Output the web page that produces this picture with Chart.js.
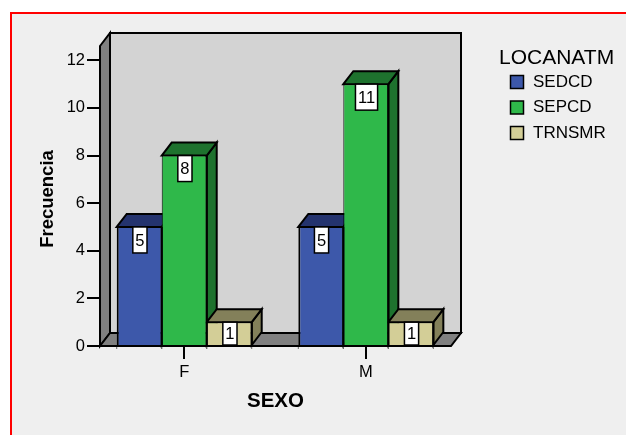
<!DOCTYPE html>
<html>
<head>
<meta charset="utf-8">
<style>
  html, body { margin: 0; padding: 0; background: #fff; overflow: hidden; }
  canvas { display: block; }
</style>
<script src="https://cdn.jsdelivr.net/npm/chart.js@4"></script>
</head>
<body>
<canvas id="chart" width="626" height="435"></canvas>
<script>
const categories = ['F', 'M'];
const seriesNames = ['SEDCD', 'SEPCD', 'TRNSMR'];
const sedcd = [5, 5];
const sepcd = [8, 11];
const trnsmr = [1, 1];
const yTicks = [0, 2, 4, 6, 8, 10, 12];

const frontColors = ['#3d58aa', '#2fb84a', '#d3ce97'];
const depthColors = ['#24336e', '#1e722e', '#83805a'];
// neighbouring bars share one outline, so the inner sides are half width
const barBorders = [
    { top: 1, left: 2, right: 1, bottom: 0 },
    { top: 1, left: 1, right: 1, bottom: 0 },
    { top: 1, left: 1, right: 1, bottom: 0 }
];
const FONT = '"Liberation Sans", Arial, sans-serif';
const DEPTH_X = 10;
const DEPTH_Y = 13;

function poly(ctx, pts, fill) {
    ctx.beginPath();
    pts.forEach((p, i) => (i ? ctx.lineTo(p[0], p[1]) : ctx.moveTo(p[0], p[1])));
    ctx.closePath();
    ctx.fillStyle = fill;
    ctx.fill();
    ctx.stroke();
}

// panel background, grey walls and the floor behind the bars
const panelPlugin = {
    id: 'panel',
    beforeDraw(chart) {
        const { ctx, width, height, chartArea: a } = chart;
        ctx.save();
        ctx.fillStyle = '#fff';
        ctx.fillRect(0, 0, width, height);
        ctx.fillStyle = '#efefef';
        ctx.fillRect(11, 13, width, height);
        ctx.fillStyle = '#f00';
        ctx.fillRect(10, 12, width, 2);
        ctx.fillRect(10, 12, 2, height);

        const top = a.top - 6;
        const bottom = a.bottom;
        const l = a.left;
        const r = a.right;
        ctx.strokeStyle = '#000';
        ctx.lineWidth = 2;
        ctx.lineJoin = 'miter';
        poly(ctx, [[l + DEPTH_X, top - DEPTH_Y], [r + DEPTH_X, top - DEPTH_Y], [r + DEPTH_X, bottom - DEPTH_Y], [l + DEPTH_X, bottom - DEPTH_Y]], '#d3d3d3');
        poly(ctx, [[l, top], [l + DEPTH_X, top - DEPTH_Y], [l + DEPTH_X, bottom - DEPTH_Y], [l, bottom]], '#808080');
        poly(ctx, [[l, bottom], [l + DEPTH_X, bottom - DEPTH_Y], [r + DEPTH_X, bottom - DEPTH_Y], [r, bottom]], '#808080');
        ctx.restore();
    }
};

// top and side faces, taken from the bar elements
const depthPlugin = {
    id: 'depth',
    beforeDatasetsDraw(chart) {
        const ctx = chart.ctx;
        ctx.save();
        ctx.strokeStyle = '#000';
        ctx.lineWidth = 2;
        categories.forEach((_, c) => {
            chart.data.datasets.forEach((ds, d) => {
                const bar = chart.getDatasetMeta(d).data[c];
                const w = bar.width / 2;
                const x0 = bar.x - w, x1 = bar.x + w, y = bar.y, b = bar.base;
                poly(ctx, [[x1, y], [x1 + DEPTH_X, y - DEPTH_Y], [x1 + DEPTH_X, b - DEPTH_Y], [x1, b]], depthColors[d]);
                poly(ctx, [[x0, y], [x0 + DEPTH_X, y - DEPTH_Y], [x1 + DEPTH_X, y - DEPTH_Y], [x1, y]], depthColors[d]);
            });
        });
        ctx.restore();
    },
    afterDatasetsDraw(chart) {
        const { ctx, chartArea: a } = chart;
        ctx.save();
        ctx.strokeStyle = '#000';
        ctx.lineWidth = 2;

        // right outline of each bar, centred on its edge
        chart.data.datasets.forEach((ds, d) => {
            chart.getDatasetMeta(d).data.forEach(bar => {
                const x1 = bar.x + bar.width / 2;
                ctx.beginPath();
                ctx.moveTo(x1, bar.y);
                ctx.lineTo(x1, bar.base);
                ctx.stroke();
            });
        });

        // front floor edge
        ctx.beginPath();
        ctx.moveTo(a.left, a.bottom);
        ctx.lineTo(a.right, a.bottom);
        ctx.stroke();

        // short stubs under the axis at every bar edge
        ctx.strokeStyle = '#666';
        ctx.lineWidth = 1;
        chart.data.datasets.forEach((ds, d) => {
            chart.getDatasetMeta(d).data.forEach(bar => {
                [bar.x - bar.width / 2, bar.x + bar.width / 2].forEach(x => {
                    ctx.beginPath();
                    ctx.moveTo(x, a.bottom + 1);
                    ctx.lineTo(x, a.bottom + 3);
                    ctx.stroke();
                });
            });
        });

        // white value boxes hanging from the top of each bar
        ctx.font = '16.5px ' + FONT;
        ctx.textAlign = 'center';
        ctx.textBaseline = 'middle';
        chart.data.datasets.forEach((ds, d) => {
            chart.getDatasetMeta(d).data.forEach((bar, i) => {
                const text = String(ds.data[i].y);
                const bw = ctx.measureText(text).width + 5;
                const bh = Math.min(26, bar.base - bar.y);
                const cx = bar.x + 0.7;
                const bx = cx - bw / 2;
                ctx.fillStyle = '#fff';
                ctx.strokeStyle = '#000';
                ctx.lineWidth = 1.5;
                ctx.fillRect(bx, bar.y, bw, bh);
                ctx.strokeRect(bx, bar.y, bw, bh);
                ctx.fillStyle = '#000';
                ctx.fillText(text, cx, bar.y + bh / 2 + 1);
            });
        });
        ctx.restore();
    }
};

// legend block in the right margin
const legendPlugin = {
    id: 'sideLegend',
    afterDraw(chart) {
        const ctx = chart.ctx;
        ctx.save();
        ctx.fillStyle = '#000';
        ctx.textBaseline = 'middle';
        ctx.font = '21px ' + FONT;
        ctx.fillText('LOCANATM', 499, 58);
        chart.data.datasets.forEach((ds, i) => {
            const y = 82 + i * 25.5;
            ctx.fillStyle = ds.backgroundColor;
            ctx.strokeStyle = '#000';
            ctx.lineWidth = 1.5;
            ctx.fillRect(510.5, y - 6.5, 13, 13);
            ctx.strokeRect(510.5, y - 6.5, 13, 13);
            ctx.fillStyle = '#000';
            ctx.font = '17px ' + FONT;
            ctx.fillText(ds.label, 533, y);
        });
        ctx.restore();
    }
};

const seriesValues = [sedcd, sepcd, trnsmr];

new Chart(document.getElementById('chart'), {
    type: 'bar',
    data: {
        datasets: seriesNames.map((name, d) => ({
            label: name,
            data: seriesValues[d].map((v, i) => ({ x: i, y: v })),
            backgroundColor: frontColors[d],
            borderColor: '#000',
            borderWidth: barBorders[d],
            borderSkipped: false,
            categoryPercentage: 0.7434,
            barPercentage: 1
        }))
    },
    plugins: [panelPlugin, depthPlugin, legendPlugin],
    options: {
        responsive: false,
        animation: false,
        layout: { padding: { top: 52, right: 175, left: 0, bottom: 0 } },
        plugins: {
            legend: { display: false },
            title: { display: false },
            tooltip: { enabled: false }
        },
        scales: {
            x: {
                type: 'linear',
                offset: false,
                min: -0.4637,
                max: 1.469,
                afterBuildTicks: s => { s.ticks = categories.map((_, i) => ({ value: i })); },
                afterFit: s => { s.height = 89; },
                border: { display: false },
                grid: { offset: false, drawOnChartArea: false, color: '#000', lineWidth: 2, tickLength: 13 },
                ticks: {
                    color: '#000',
                    font: { family: FONT, size: 16.5 },
                    padding: 4,
                    maxRotation: 0,
                    autoSkip: false,
                    callback: v => categories[v]
                },
                title: {
                    display: true,
                    text: 'SEXO',
                    color: '#000',
                    font: { family: FONT, size: 20.5, weight: 'bold' },
                    padding: { top: 0, bottom: 21 }
                }
            },
            y: {
                min: 0,
                max: 12.35,
                afterBuildTicks: s => { s.ticks = yTicks.map(v => ({ value: v })); },
                afterFit: s => { s.width = 100; },
                border: { display: false },
                grid: { drawOnChartArea: false, color: '#000', lineWidth: 2, tickLength: 13 },
                ticks: {
                    color: '#000',
                    font: { family: FONT, size: 16.5 },
                    padding: 2
                },
                title: {
                    display: true,
                    text: 'Frecuencia',
                    color: '#000',
                    font: { family: FONT, size: 18.5, weight: 'bold' },
                    padding: { top: 37, bottom: 0 }
                }
            }
        }
    }
});
</script>
</body>
</html>
